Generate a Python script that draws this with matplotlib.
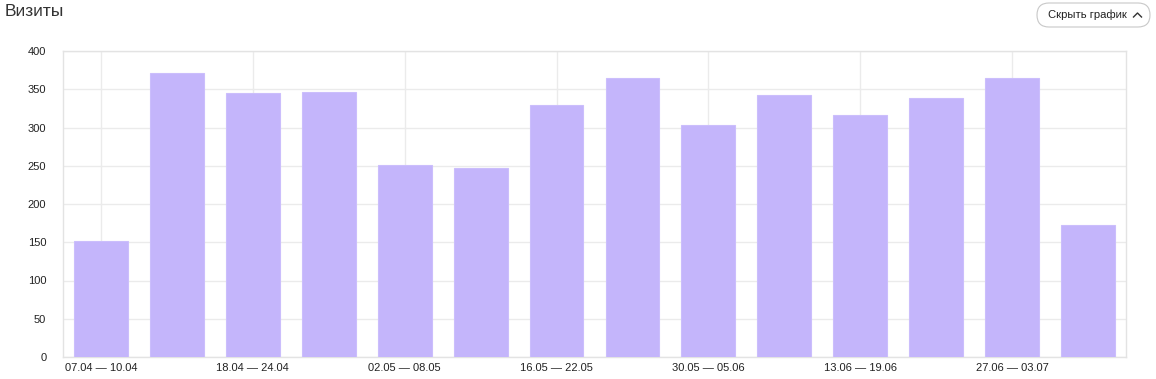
import matplotlib
matplotlib.use("Agg")
import matplotlib.pyplot as plt
from matplotlib.patches import FancyBboxPatch

plt.rcParams['font.family'] = ['Liberation Sans', 'DejaVu Sans']

weeks = ["07.04 — 10.04", "11.04 — 17.04", "18.04 — 24.04", "25.04 — 01.05",
         "02.05 — 08.05", "09.05 — 15.05", "16.05 — 22.05", "23.05 — 29.05",
         "30.05 — 05.06", "06.06 — 12.06", "13.06 — 19.06", "20.06 — 26.06",
         "27.06 — 03.07", "04.07 — 06.07"]
visits = [152, 371, 345, 346, 251, 247, 330, 365, 303, 343, 316, 338, 365, 173]
y_ticks = [0, 50, 100, 150, 200, 250, 300, 350, 400]

W, H = 1156, 379
fig = plt.figure(figsize=(W / 100, H / 100), dpi=100)
ax = fig.add_axes([63/W, 22/H, (1126-63)/W, (357-51)/H])

x = list(range(len(weeks)))
ax.bar(x, visits, width=0.71, color="#c4b5fb", edgecolor="#cbbefc", linewidth=0.8, zorder=3)

ax.set_xlim(-0.5, len(weeks) - 0.5)
ax.set_ylim(0, 400)
ax.set_yticks(y_ticks)
ax.set_xticks(x[::2])
ax.set_xticklabels(weeks[::2])
ax.tick_params(axis='both', length=0, labelsize=8, colors="#222222")
ax.tick_params(axis='y', pad=12)
ax.tick_params(axis='x', pad=4)
ax.grid(True, color="#ebebeb", linewidth=1, zorder=0)
for s in ax.spines.values():
    s.set_color("#e3e3e3")
    s.set_linewidth(1)

# overlay axes in pixel coordinates for header elements
ov = fig.add_axes([0, 0, 1, 1], zorder=5)
ov.set_xlim(0, W)
ov.set_ylim(H, 0)
ov.axis("off")
ov.patch.set_alpha(0)

ov.text(5, 12, "Визиты", fontsize=12.5, color="#333333", va="center", ha="left")

btn = FancyBboxPatch((1037, 3), 113, 24, boxstyle="round,pad=0,rounding_size=12",
                     facecolor="white", edgecolor="#c8c8c8", linewidth=0.8)
ov.add_patch(btn)
ov.text(1048, 15, "Скрыть график", fontsize=8.1, color="#222222", va="center", ha="left")
ov.plot([1133.5, 1137.5, 1141.5], [17, 13, 17], color="#333333", linewidth=1)

fig.savefig("out.png", dpi=100)
